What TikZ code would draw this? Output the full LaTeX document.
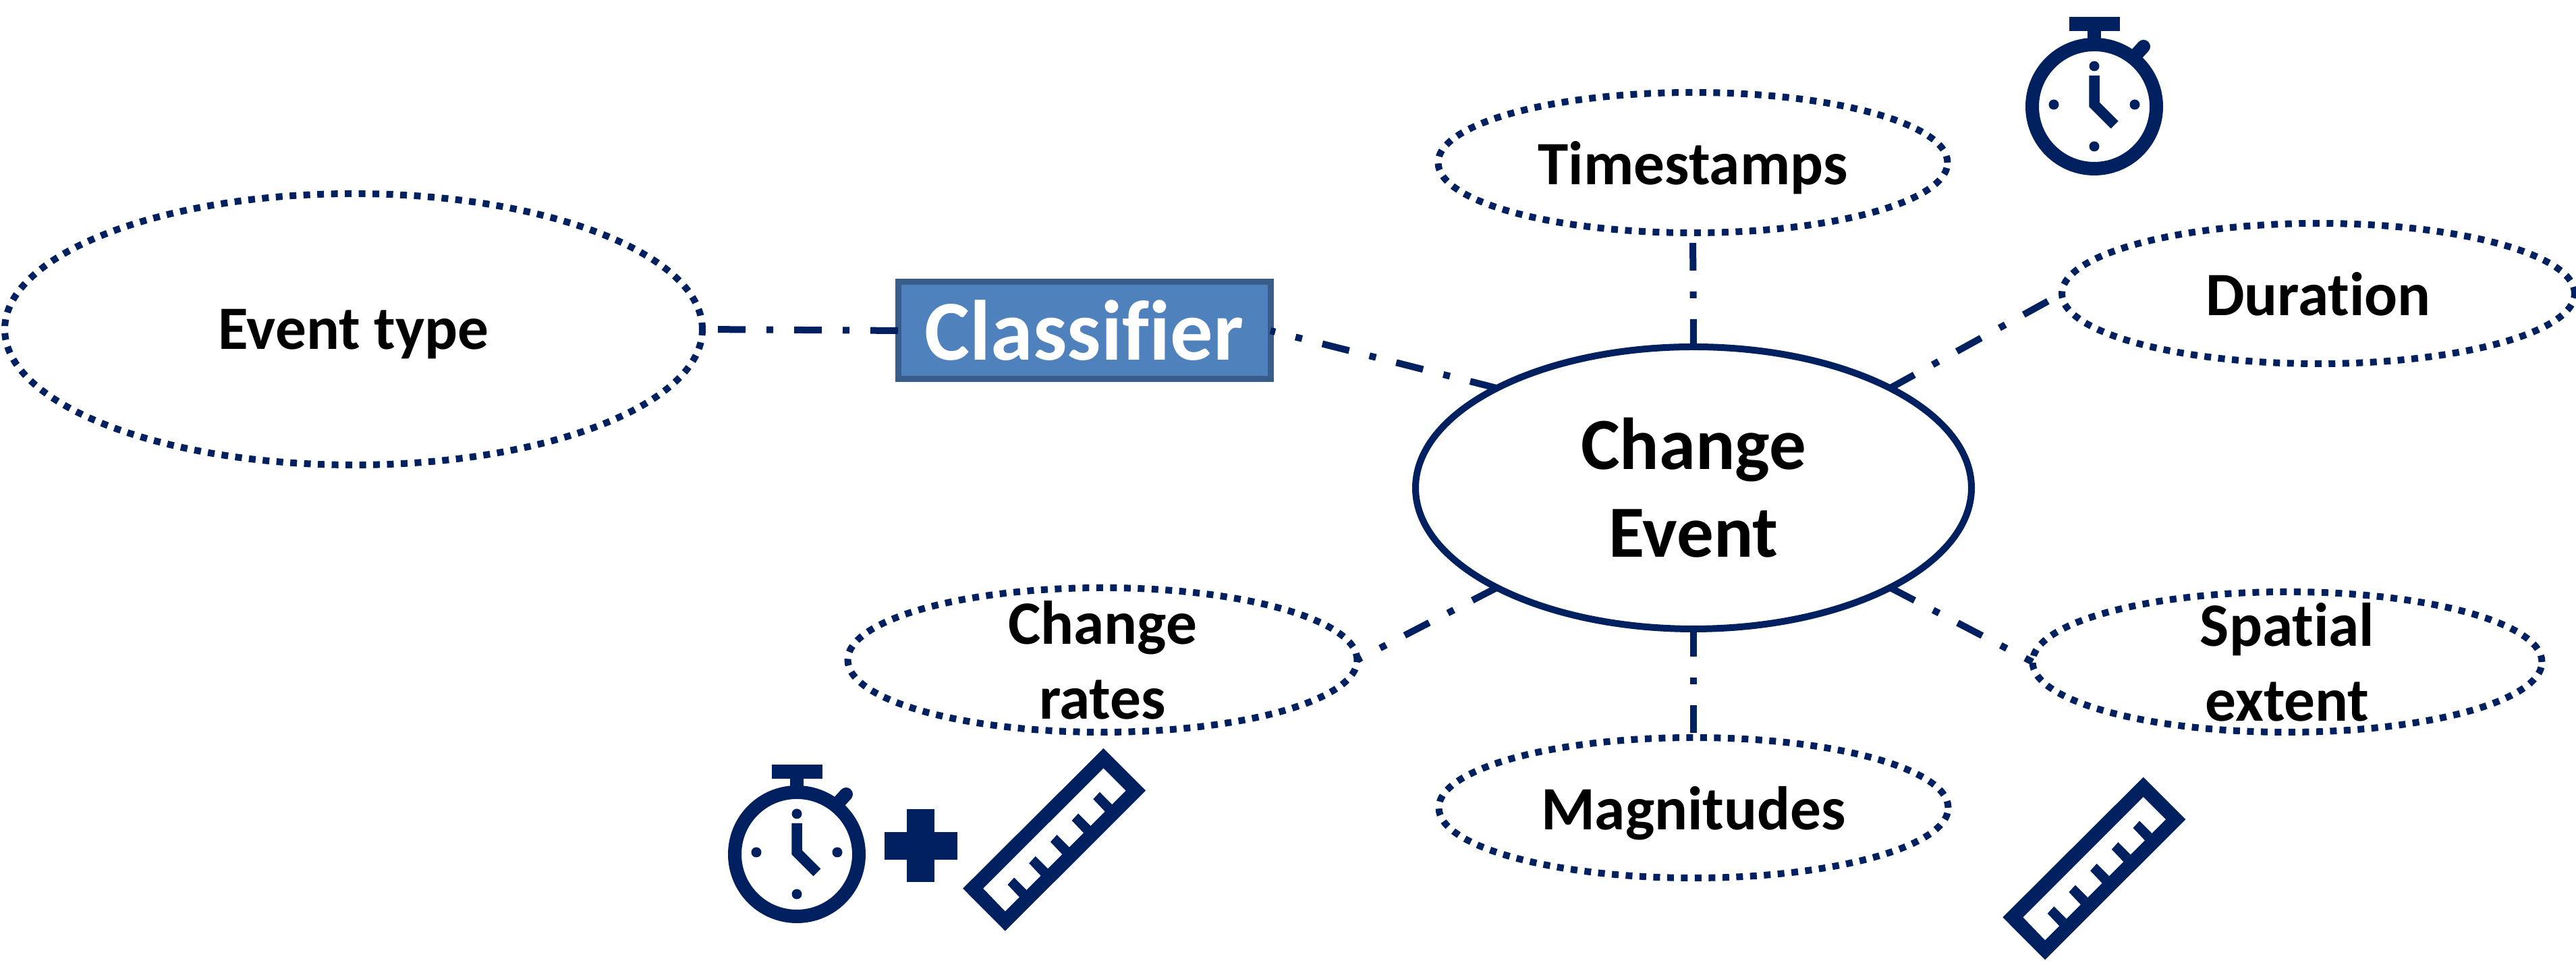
\documentclass[tikz,border=0pt]{standalone}
\usepackage{fontspec}
\setmainfont[Ligatures=NoCommon]{Carlito}
\usetikzlibrary{shapes.geometric}
\definecolor{navy}{HTML}{002060}
\definecolor{boxfill}{HTML}{4F81BD}
\definecolor{boxline}{HTML}{385D8A}
\tikzset{
  evt/.style={ellipse,draw=navy,line width=.10cm,inner sep=0,outer sep=0,align=center,font=\fontsize{26}{31.5}\selectfont\bfseries},
  attr/.style={evt,dash pattern=on .10cm off .105cm,minimum width=7.55cm,minimum height=2.08cm},
  oneline/.style={attr,text depth=0pt},
  twoline/.style={attr,inner ysep=-.4cm},
  link/.style={navy,line width=.10cm,dash pattern=on .41cm off .31cm on .10cm off .31cm},
}
\newcommand{\stopwatch}[1]{
\begin{scope}[shift={#1}]
\draw [navy,line width=.2cm] (0,0) circle [radius=0.92];
\fill [navy] (-.37,1.12) rectangle (.38,1.33);
\fill [navy] (-.1,.9) rectangle (.1,1.12);
\draw [navy,line width=.2cm,line cap=round] (.63,.78) -- (.73,.89);
\fill [navy] (0,.60) circle [radius=0.075];
\fill [navy] (-.60,.03) circle [radius=0.075];
\fill [navy] (.60,.03) circle [radius=0.075];
\fill [navy] (0,-.59) circle [radius=0.075];
\draw [navy,line width=.155cm] (0,.46) -- (0,.03) -- (.30,-.27);
\end{scope}
}
\newcommand{\ruler}[1]{
\begin{scope}[shift={#1}]
\fill [navy,even odd rule] (0,0) -- (.626,-.626) -- (-1.457,-2.706) -- (-2.084,-2.076) -- cycle
 (0,-.293) -- (.333,-.626) -- (-1.457,-2.416) -- (-1.784,-2.076) -- cycle;
\foreach \k in {0,...,4}
 \fill [navy,shift={(.317*\k,.317*\k)}] (-1.244,-2.206) -- (-1.42,-2.02) -- (-1.324,-1.916) -- (-1.14,-2.10) -- cycle;
\end{scope}
}
\begin{document}
\begin{tikzpicture}
\useasboundingbox (0,0) rectangle (38.18,14.30);

\node [evt,minimum width=8.24cm,minimum height=4.18cm,font=\fontsize{31}{37}\selectfont\bfseries] at (25.10,7.07) (event) {Change\\Event};
\node [oneline] at (25.09,11.89) (stamps) {Timestamps};
\node [oneline,minimum width=7.6cm] at (34.36,9.95) (duration) {Duration};
\node [twoline] at (33.90,4.49) (spatial) {Spatial\\extent};
\node [oneline] at (25.10,2.33) (magnitudes) {Magnitudes};
\node [twoline,minimum height=2.14cm] at (16.34,4.52) (rates) {Change\\rates};
\node [oneline,minimum width=10.34cm,minimum height=4.02cm] at (5.24,9.42) (etype) {Event type};

\node [draw=boxline,fill=boxfill,line width=.09cm,text=white,inner sep=0,outer sep=0,minimum width=5.52cm,minimum height=1.44cm,font=\fontsize{36}{43}\selectfont\bfseries] at (16.07,9.40) (classifier) {Classifier};

\draw [link] (classifier.west) -- (etype.east);
\draw [link] (event.north west) -- (classifier.east);
\draw [link] (event.north) -- (stamps.south);
\draw [link] (event.north east) -- (duration.west);
\draw [link] (event.south east) -- (spatial.west);
\draw [link] (event.south) -- (magnitudes.north);
\draw [link] (event.south west) -- (rates.east);

\stopwatch{(31.04,12.72)}
\stopwatch{(11.81,1.64)}
\ruler{(31.767,2.783)}
\ruler{(16.355,3.21)}

\fill [navy] (13.44,1.23) rectangle (13.85,2.31);
\fill [navy] (13.105,1.56) rectangle (14.186,1.97);
\end{tikzpicture}
\end{document}
